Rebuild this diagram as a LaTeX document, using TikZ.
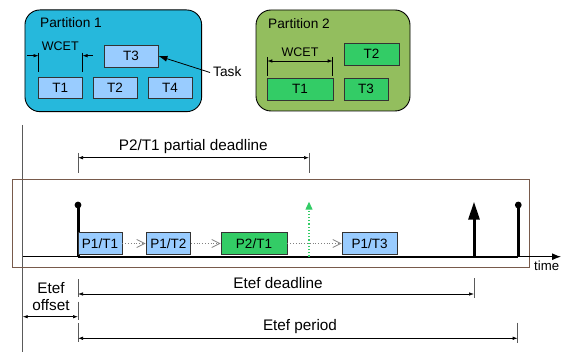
\documentclass[tikz,border=0pt]{standalone}
\usepackage{fontspec}
\setmainfont{Liberation Sans}
\usetikzlibrary{arrows.meta}
\definecolor{pone}{RGB}{38,184,220}
\definecolor{ptwo}{RGB}{147,190,94}
\definecolor{lblue}{RGB}{153,204,255}
\definecolor{tgreen}{RGB}{51,204,102}
\definecolor{brownbox}{RGB}{120,90,75}
\definecolor{tickgray}{RGB}{90,90,90}
\tikzset{
  part/.style={draw=black, line width=0.9pt, rounded corners=15pt, inner sep=0pt},
  ptitle/.style={anchor=west, inner sep=0pt, font=\fontsize{13.7}{15}\selectfont},
  tbox/.style={draw=black!80, line width=0.8pt, fill=lblue, inner sep=0pt, font=\fontsize{13.5}{15}\selectfont},
  gbox/.style={tbox, fill=tgreen},
  dimtick/.style={draw=tickgray, line width=1pt},
  dimline/.style={draw=black, line width=0.7pt},
  wtick/.style={draw=black, line width=1pt},
  dimhead/.style={-{Latex[length=5pt,width=3.5pt]}},
  dimboth/.style={{Latex[length=5pt,width=3.5pt]}-{Latex[length=5pt,width=3.5pt]}},
  lbl/.style={inner sep=0pt, font=\fontsize{15.3}{17}\selectfont},
  wlbl/.style={inner sep=0pt, font=\fontsize{12.5}{14}\selectfont},
  flow/.style={draw=gray, dotted, line width=0.8pt, -{Straight Barb[length=8pt,width=8pt]}},
  stem/.style={draw=black, line width=3pt},
}
\begin{document}
\begin{tikzpicture}[x=1pt,y=-1pt]
\useasboundingbox (0,0) rectangle (568,352);
% ---------- Partition 1
\node[part, fill=pone, minimum width=176.7pt, minimum height=101.7pt] (P1) at (113.3,60.8) {};
\node[ptitle] (P1t) at (40,23) {Partition 1};
\node[tbox, minimum width=54pt, minimum height=22pt] (a3) at (131,56) {T3};
\node[tbox, minimum width=43.3pt, minimum height=21pt] (a1) at (60.3,87.5) {T1};
\node[tbox, minimum width=44pt, minimum height=21pt] (a2) at (115,87.5) {T2};
\node[tbox, minimum width=44pt, minimum height=21pt] (a4) at (170,87.5) {T4};
\coordinate (w1a) at (38.5,52.7); \coordinate (w1b) at (38.5,71.7);
\coordinate (w1c) at (82.5,52.7); \coordinate (w1d) at (82.5,71.7);
\draw[wtick] (w1a) -- (w1b);
\draw[wtick] (w1c) -- (w1d);
\coordinate (w1l) at (27.3,55.7); \coordinate (w1la) at (38.5,55.7);
\coordinate (w1r) at (92.7,55.7); \coordinate (w1ra) at (82.5,55.7);
\draw[dimline, dimhead] (w1l) -- (w1la);
\draw[dimline, dimhead] (w1r) -- (w1ra);
\node[wlbl] (w1t) at (60.3,46) {WCET};
\node[anchor=west, inner sep=0pt, font=\fontsize{13.7}{15}\selectfont] (task) at (213,72) {Task};
\coordinate (taskstart) at (210,72.5);
\draw[line width=0.8pt, -{Latex[length=9pt,width=6pt]}] (taskstart) -- (a3.east);
% ---------- Partition 2
\node[part, fill=ptwo, minimum width=154pt, minimum height=101pt] (P2) at (333,60.5) {};
\node[ptitle] (P2t) at (268,24) {Partition 2};
\node[gbox, minimum width=55pt, minimum height=22pt] (b2) at (371.5,54) {T2};
\node[gbox, minimum width=66pt, minimum height=22pt] (b1) at (300,89) {T1};
\node[gbox, minimum width=44pt, minimum height=22pt] (b3) at (366,89) {T3};
\coordinate (w2a) at (267.3,57); \coordinate (w2b) at (267.3,76);
\coordinate (w2c) at (332.7,57); \coordinate (w2d) at (332.7,76);
\draw[wtick] (w2a) -- (w2b);
\draw[wtick] (w2c) -- (w2d);
\coordinate (w2l) at (267.3,61); \coordinate (w2r) at (332.7,61);
\draw[dimline, dimboth] (w2l) -- (w2r);
\node[wlbl] (w2t) at (300,52) {WCET};
% ---------- Timeline
\coordinate (axtop) at (22.7,125); \coordinate (axbot) at (22.7,352);
\draw[draw=tickgray, line width=1pt] (axtop) -- (axbot);
\coordinate (bra) at (12,179.3); \coordinate (brb) at (529,267);
\draw[draw=brownbox, line width=0.8pt] (bra) rectangle (brb);
\coordinate (t0) at (22.7,256.7); \coordinate (tend) at (561,256.7);
\draw[line width=1pt, -{Latex[length=9pt,width=7pt]}] (t0) -- (tend);
\node[anchor=north west, inner sep=0pt, font=\fontsize{13.2}{15}\selectfont] (time) at (534,261) {time};
\coordinate (s0) at (78,256.7); \coordinate (s1) at (518.3,256.7);
\draw[line width=2.3pt] (s0) -- (s1);
\coordinate (s0t) at (78,205);
\draw[stem] (s0) -- (s0t);
\fill (s0t) circle (3.4pt);
\coordinate (s1t) at (518.3,205);
\draw[stem] (s1) -- (s1t);
\fill (s1t) circle (3.4pt);
\coordinate (dlb) at (474,256.7); \coordinate (dlt) at (474,201.7);
\draw[line width=3pt, -{Triangle[length=18pt,width=11pt]}] (dlb) -- (dlt);
\coordinate (gdb) at (309,256.7); \coordinate (gdt) at (309,201.7);
\draw[draw=tgreen, dotted, line width=1.2pt, -{Triangle[length=8pt,width=7pt]}] (gdb) -- (gdt);
\node[tbox, minimum width=44pt, minimum height=22.4pt] (q1) at (100,243.5) {P1/T1};
\node[tbox, minimum width=44.7pt, minimum height=22.4pt] (q2) at (168.3,243.5) {P1/T2};
\node[gbox, minimum width=66pt, minimum height=22.4pt] (q3) at (254,243.5) {P2/T1};
\node[tbox, minimum width=55.3pt, minimum height=22.4pt] (q4) at (369.7,243.5) {P1/T3};
\draw[flow] (q1) -- (q2);
\draw[flow] (q2) -- (q3);
\draw[flow] (q3) -- (q4);
% partial deadline
\coordinate (pd1a) at (78,153); \coordinate (pd1b) at (78,172.7);
\coordinate (pd2a) at (309,153); \coordinate (pd2b) at (309,172.7);
\draw[dimtick] (pd1a) -- (pd1b);
\draw[dimtick] (pd2a) -- (pd2b);
\coordinate (pdl) at (78,157.7); \coordinate (pdr) at (309,157.7);
\draw[dimline, dimboth] (pdl) -- (pdr);
\node[lbl] (pdt) at (193.3,146.7) {P2/T1 partial deadline};
% bottom dimensions
\coordinate (k1) at (78,279.3); \coordinate (k2) at (78,296.7);
\coordinate (k3) at (78,301.7); \coordinate (k4) at (78,320);
\coordinate (k5) at (78,323.3); \coordinate (k6) at (78,341.7);
\coordinate (k7) at (474,278.3); \coordinate (k8) at (474,298.3);
\coordinate (k9) at (517.7,322.7); \coordinate (k10) at (517.7,342.7);
\draw[dimtick] (k1) -- (k2);
\draw[dimtick] (k3) -- (k4);
\draw[dimtick] (k5) -- (k6);
\draw[dimtick] (k7) -- (k8);
\draw[dimtick] (k9) -- (k10);
\coordinate (edl) at (78,294); \coordinate (edr) at (474,294);
\draw[dimline, dimboth] (edl) -- (edr);
\node[lbl] (edt) at (278,283.3) {Etef deadline};
\coordinate (eol) at (22.7,316.7); \coordinate (eor) at (78,316.7);
\draw[dimline, dimboth] (eol) -- (eor);
\node[lbl, align=center] (eot) at (51,296.7) {Etef\\[-0.5pt]offset};
\coordinate (epl) at (78,338.3); \coordinate (epr) at (517.7,338.3);
\draw[dimline, dimboth] (epl) -- (epr);
\node[lbl] (ept) at (300,326.7) {Etef period};
\end{tikzpicture}
\end{document}
